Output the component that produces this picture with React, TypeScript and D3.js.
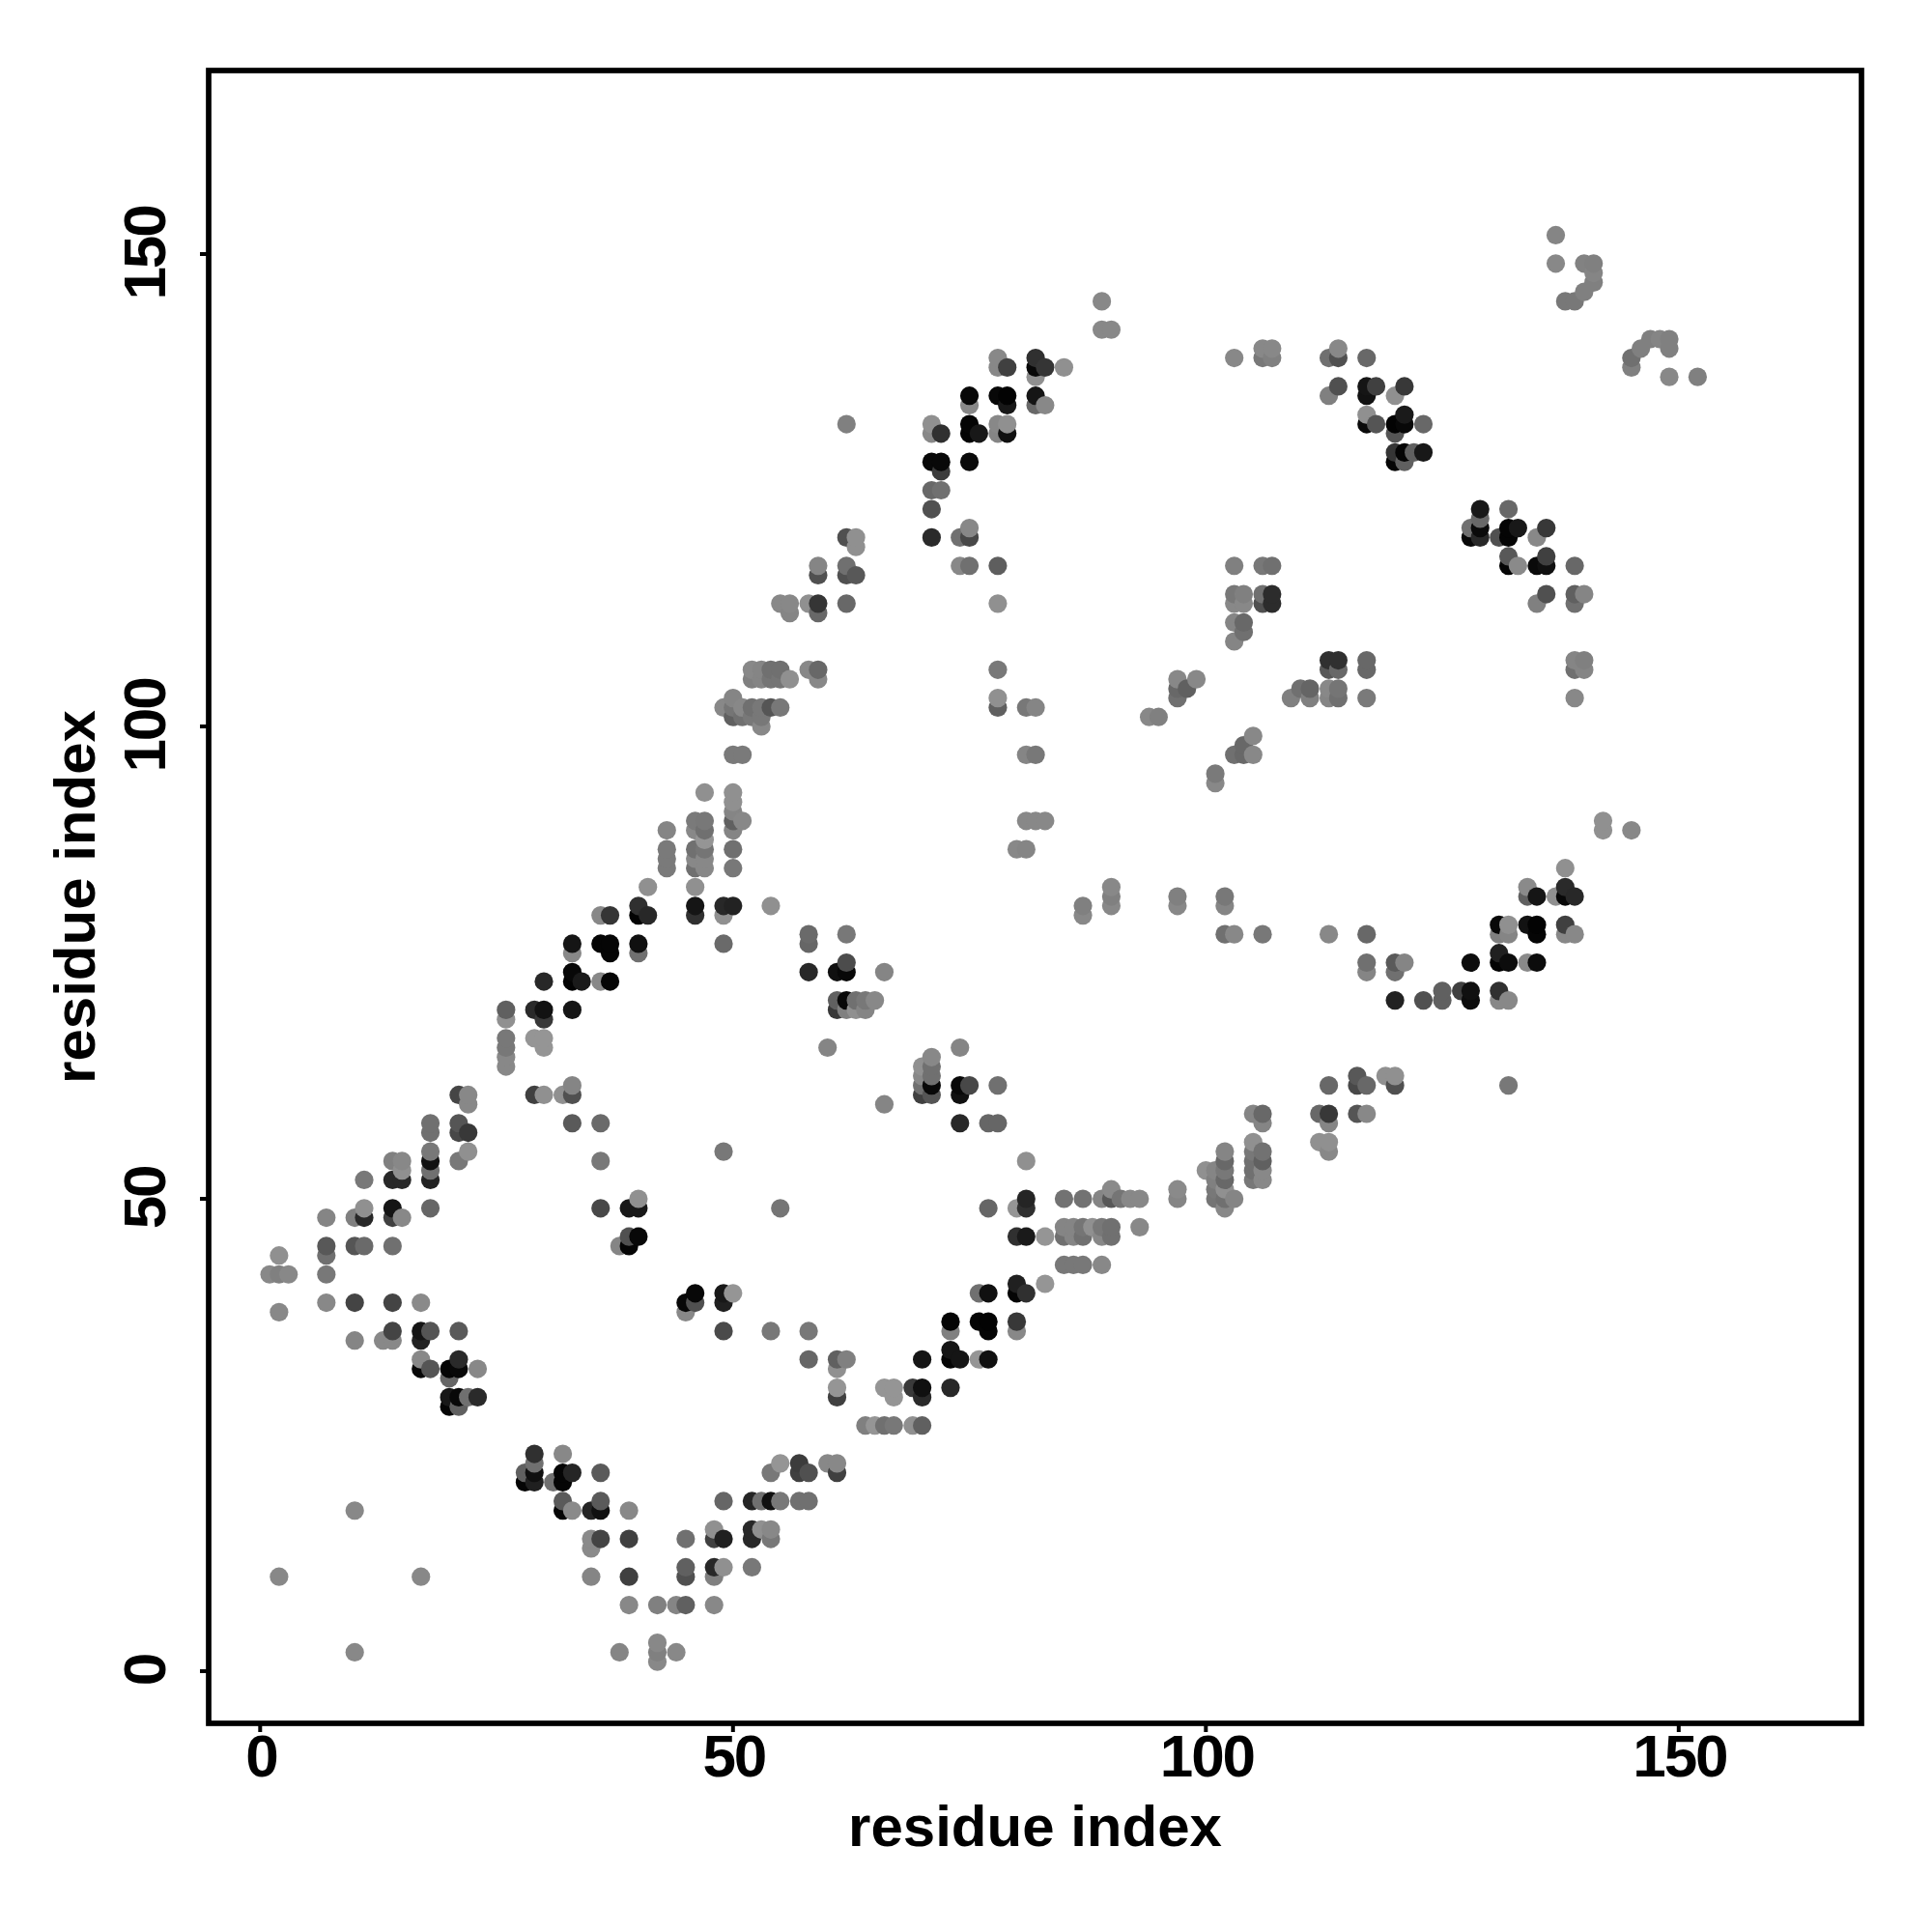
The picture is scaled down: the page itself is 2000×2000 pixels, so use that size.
import React from "react";
import * as d3 from "d3";

type Contact = [number, number, number];

const tickValues = [0, 50, 100, 150];
const axisTitle = "residue index";

const lowerLeft: Contact[] = [
  [2,38,0x88],[7,39,0x88],[10,39,0x44],[14,39,0x44],[17,39,0x8a],[14,36,0x44],[10,35,0x85],[13,35,0x88],[14,35,0x88],
  [17,36,0x15],[17,35,0x22],[18,36,0x55],[21,36,0x5a],[17,33,0x88],[17,32,0x08],[18,32,0x55],[20,32,0x05],[21,33,0x2a],
  [21,32,0x08],[20,31,0x66],[23,32,0x88],[20,29,0x18],[20,28,0x05],[21,29,0x08],[21,28,0x60],[22,29,0x70],[23,29,0x2a],
  [29,23,0x30],[32,23,0x88],[29,22,0x70],[28,21,0x60],[29,21,0x10],[28,20,0x05],[29,20,0x20],[32,21,0x05],[33,21,0x25],
  [31,20,0x70],[32,20,0x05],[36,21,0x5a],[32,18,0x5a],[32,17,0x05],[33,17,0x8a],[35,17,0x25],[36,18,0x5a],[36,17,0x10],
  [39,17,0x88],[10,17,0x88],[35,14,0x8a],[35,13,0x8a],[36,14,0x44],[39,14,0x40],[2,10,0x88],[17,10,0x88],[35,10,0x85],
  [39,10,0x40],[39,7,0x88],[42,7,0x80],[10,2,0x88],[38,2,0x85],[42,3,0x88],[42,2,0x80],[42,1,0x88],[44,7,0x85],[45,7,0x60],
  [48,7,0x88],[44,2,0x88],
];

const lowerMiddle: Contact[] = [
  [55,49,0x75],[77,49,0x66],[80,49,0x95],[81,49,0x30],[81,50,0x25],[80,46,0x30],[81,46,0x1a],[83,46,0x95],[45,39,0x08],
  [45,38,0x88],[46,40,0x08],[46,39,0x50],[49,40,0x18],[49,39,0x20],[50,40,0x95],[49,36,0x4a],[54,36,0x78],[58,36,0x78],
  [58,33,0x66],[61,33,0x60],[62,33,0x80],[61,32,0x90],[61,30,0x95],[61,29,0x40],[66,30,0x95],[67,30,0x95],[67,29,0x95],
  [69,30,0x3a],[70,30,0x10],[70,29,0x2a],[73,30,0x28],[70,33,0x15],[73,33,0x05],[73,34,0x15],[74,33,0x15],[76,33,0x95],
  [77,33,0x10],[73,37,0x05],[73,36,0x80],[76,37,0x05],[77,37,0x03],[77,36,0x05],[80,37,0x38],[80,36,0x88],[76,40,0x70],
  [77,40,0x10],[80,41,0x20],[80,40,0x05],[81,40,0x30],[83,41,0x95],[64,26,0x80],[65,26,0x95],[66,26,0x70],[67,26,0x78],
  [69,26,0x90],[70,26,0x60],[55,22,0x95],[54,21,0x78],[57,22,0x3c],[57,21,0x40],[58,21,0x50],[60,22,0x88],[61,22,0x88],
  [61,21,0x40],[49,18,0x66],[52,18,0x25],[53,18,0x70],[54,18,0x10],[55,18,0x78],[57,18,0x70],[58,18,0x70],[45,14,0x70],
  [48,15,0x90],[48,14,0x40],[49,14,0x20],[52,15,0x28],[52,14,0x28],[53,15,0x90],[54,15,0x88],[54,14,0x78],[45,11,0x60],
  [45,10,0x50],[48,11,0x28],[48,10,0x80],[49,11,0x90],[52,11,0x78],
];

const upperLeft: Contact[] = [
  [41,83,0x90],[40,81,0x30],[40,80,0x03],[41,80,0x28],[36,80,0x88],[37,80,0x35],[33,77,0x15],[33,76,0x88],[36,77,0x05],
  [37,77,0x05],[37,76,0x05],[40,77,0x10],[40,76,0x70],[30,73,0x28],[33,74,0x08],[33,73,0x03],[34,73,0x1a],[36,73,0x88],
  [37,73,0x05],[26,70,0x60],[26,69,0x90],[29,70,0x2a],[30,70,0x12],[30,69,0x38],[33,70,0x15],[26,67,0x78],[26,66,0x78],
  [26,65,0x88],[26,64,0x88],[29,67,0x95],[30,67,0x95],[30,66,0x95],[29,61,0x40],[30,61,0x90],[32,61,0x90],[33,61,0x50],
  [33,62,0x85],[33,58,0x5a],[36,58,0x6a],[36,54,0x78],[36,49,0x48],[39,49,0x18],[40,49,0x18],[40,50,0x90],[39,45,0x05],
  [39,46,0x50],[38,45,0x85],[40,46,0x08],[21,61,0x45],[22,61,0x88],[22,60,0x88],[18,58,0x70],[18,57,0x70],[21,58,0x55],
  [21,57,0x48],[22,57,0x38],[18,55,0x78],[18,54,0x12],[18,53,0x70],[18,52,0x22],[21,54,0x78],[22,55,0x90],[14,54,0x80],
  [15,54,0x88],[15,53,0x90],[14,52,0x28],[15,52,0x28],[11,52,0x78],[18,49,0x66],[14,49,0x15],[14,48,0x40],[15,48,0x88],
  [11,49,0x90],[10,48,0x80],[11,48,0x28],[7,48,0x85],[7,45,0x58],[7,44,0x70],[10,45,0x55],[11,45,0x6a],[14,45,0x70],
  [2,44,0x90],[1,42,0x88],[2,42,0x80],[3,42,0x88],[7,42,0x78],
];

const centre: Contact[] = [
  [46,81,0x15],[46,80,0x30],[49,81,0x28],[50,81,0x22],[49,80,0x90],[54,81,0x90],[49,77,0x6a],[46,83,0x90],[43,89,0x85],
  [43,87,0x7a],[43,86,0x7a],[43,85,0x7a],[46,90,0x7a],[47,90,0x78],[46,89,0x88],[47,89,0x70],[47,88,0x95],[46,87,0x70],
  [47,87,0x75],[46,86,0x88],[47,86,0x88],[46,85,0x70],[47,85,0x88],[50,93,0x90],[50,92,0x90],[50,91,0x85],[50,90,0x60],
  [50,89,0x85],[51,90,0x88],[50,87,0x70],[50,85,0x78],[47,93,0x90],[58,78,0x6a],[58,77,0x66],[62,78,0x78],[58,74,0x28],
  [61,74,0x10],[62,74,0x08],[62,75,0x4c],[66,74,0x85],[61,71,0x60],[61,70,0x38],[62,71,0x08],[62,70,0x80],[63,71,0x70],
  [63,70,0x90],[64,71,0x78],[64,70,0x85],[65,71,0x88],[60,66,0x85],[66,60,0x85],[74,66,0x85],[71,65,0x88],[70,64,0x90],
  [71,64,0x70],[70,63,0x88],[71,63,0x70],[70,62,0x70],[71,62,0x08],[70,61,0x40],[71,61,0x55],[74,62,0x08],[75,62,0x48],
  [74,61,0x10],[78,62,0x70],[74,58,0x28],[77,58,0x66],[78,58,0x66],[49,55,0x78],[81,54,0x90],
];

const lowerRight: Contact[] = [
  [85,50,0x72],[87,50,0x72],[89,50,0x85],[90,51,0x8a],[90,50,0x58],[91,50,0x75],[92,50,0x88],[93,50,0x88],[85,47,0x85],
  [86,47,0x85],[87,47,0x75],[88,47,0x90],[89,47,0x78],[90,47,0x70],[93,47,0x88],[85,46,0x70],[86,46,0x85],[87,46,0x70],
  [89,46,0x88],[90,46,0x70],[85,43,0x78],[86,43,0x78],[87,43,0x78],[89,43,0x88],[97,51,0x8a],[97,50,0x85],[100,53,0x90],
  [101,53,0x85],[101,52,0x80],[101,51,0x78],[101,50,0x75],[102,55,0x85],[102,54,0x68],[102,53,0x78],[102,52,0x68],
  [102,51,0x90],[102,50,0x70],[102,49,0x88],[103,50,0x85],[105,56,0x90],[106,55,0x72],[105,55,0x78],[105,54,0x70],
  [106,54,0x60],[105,53,0x70],[106,53,0x88],[105,52,0x78],[106,52,0x88],[105,59,0x85],[106,59,0x68],[106,58,0x85],
  [112,59,0x68],[113,59,0x38],[113,58,0x85],[112,56,0x90],[113,56,0x90],[113,55,0x88],[113,62,0x68],[116,63,0x58],
  [116,62,0x48],[117,62,0x68],[116,59,0x55],[117,59,0x88],[119,63,0x90],[120,63,0x90],[120,62,0x50],[120,71,0x22],
  [123,71,0x50],[132,62,0x78],
];

const rightArc: Contact[] = [
  [113,78,0x88],[117,78,0x68],[117,75,0x70],[117,74,0x85],[120,75,0x5a],[121,75,0x85],[120,74,0x70],[125,72,0x60],
  [125,71,0x60],[127,72,0x40],[128,72,0x10],[128,71,0x0c],[128,75,0x0c],[131,72,0x30],[131,71,0x88],[132,71,0x88],
  [131,76,0x20],[131,75,0x03],[132,75,0x0c],[134,75,0x8a],[135,75,0x0c],[131,79,0x08],[132,79,0x90],[131,78,0x80],
  [132,78,0x85],[134,79,0x12],[135,79,0x03],[135,78,0x05],[138,79,0x40],[138,78,0x88],[139,78,0x88],[134,83,0x8a],
  [134,82,0x60],[135,82,0x15],[137,82,0x90],[138,83,0x2a],[138,82,0x08],[139,82,0x28],[138,85,0x90],[142,90,0x90],
  [142,89,0x90],[145,89,0x88],[87,81,0x80],[87,80,0x88],[90,83,0x88],[90,82,0x80],[90,81,0x88],[97,82,0x80],[97,81,0x88],
  [102,82,0x78],[102,81,0x85],[102,78,0x70],[103,78,0x88],[106,78,0x78],
];

const upperMiddle: Contact[] = [
  [103,117,0x80],[106,117,0x78],[107,117,0x70],
  [103,114,0x78],[104,114,0x80],[103,113,0x88],[104,113,0x88],[106,114,0x70],[107,114,0x2c],[106,113,0x50],[107,113,0x2c],
  [103,111,0x85],[104,111,0x68],[104,110,0x70],[103,109,0x85],[97,105,0x88],[99,105,0x88],[97,104,0x68],[98,104,0x60],
  [97,103,0x70],[94,101,0x88],[95,101,0x80],[105,99,0x88],[104,98,0x68],[103,97,0x70],[104,97,0x68],[105,97,0x88],
  [101,95,0x7a],[101,94,0x88],[113,107,0x30],[114,107,0x30],[113,106,0x58],[114,106,0x68],[117,107,0x68],[117,106,0x68],
  [117,103,0x7a],[109,103,0x80],[110,104,0x70],[111,104,0x65],[111,103,0x80],[113,104,0x88],[114,104,0x75],[113,103,0x85],
  [114,103,0x70],[139,107,0x85],[140,107,0x80],[139,106,0x70],[140,106,0x85],[139,103,0x88],
];

const upperBand: Contact[] = [
  [71,123,0x50],[74,120,0x70],[75,120,0x48],[75,121,0x88],[74,117,0x88],[75,117,0x70],[78,117,0x5e],[78,113,0x90],
  [78,106,0x78],[78,103,0x90],[78,102,0x60],[81,102,0x78],[82,102,0x85],[81,97,0x85],[82,97,0x78],[81,90,0x88],
  [82,90,0x88],[83,90,0x88],[80,87,0x88],[81,87,0x85],[62,120,0x50],[63,120,0x90],[63,119,0x90],[59,117,0x85],
  [59,116,0x50],[62,117,0x70],[62,116,0x50],[63,116,0x58],[55,113,0x88],[56,113,0x88],[56,112,0x85],[58,113,0x90],
  [59,113,0x35],[59,112,0x68],[62,113,0x68],[52,106,0x88],[53,106,0x85],[54,106,0x70],[55,106,0x70],[52,105,0x80],
  [53,105,0x85],[54,105,0x75],[55,105,0x75],[56,105,0x90],[58,106,0x88],[59,106,0x68],[59,105,0x88],[50,103,0x85],
  [49,102,0x88],[50,102,0x75],[51,102,0x88],[52,102,0x70],[53,102,0x78],[54,102,0x55],[55,102,0x78],[50,101,0x60],
  [51,101,0x70],[52,101,0x78],[53,101,0x78],[53,100,0x88],[50,97,0x7a],[51,97,0x7a],[62,132,0x80],
  [78,139,0x88],[78,138,0x88],[79,138,0x40],[82,139,0x30],[82,138,0x08],[82,137,0x90],[83,138,0x35],[85,138,0x90],
  [75,135,0x08],[75,134,0x88],[78,135,0x08],[79,135,0x03],[79,134,0x18],[82,135,0x15],[82,134,0x68],[83,134,0x88],
  [71,132,0x90],[71,131,0x88],[72,131,0x30],[75,132,0x05],[75,131,0x03],[76,131,0x18],[78,132,0x88],[79,132,0x90],
  [78,131,0x85],[79,131,0x10],[71,128,0x08],[72,128,0x08],[72,127,0x3c],[75,128,0x0a],[71,125,0x68],[72,125,0x70],
  [71,120,0x2a],[89,145,0x88],[89,142,0x88],[90,142,0x88],
];

const upperRight: Contact[] = [
  [103,139,0x88],[106,140,0x88],[107,140,0x88],[106,139,0x78],[107,139,0x80],
  [113,139,0x70],[114,139,0x50],[114,140,0x88],[117,139,0x68],[113,135,0x80],[114,136,0x50],[117,136,0x15],[117,135,0x12],
  [118,136,0x40],[120,135,0x90],[121,136,0x38],[117,133,0x90],[117,132,0x0a],[118,132,0x55],[120,132,0x03],[121,133,0x1a],
  [121,132,0x08],[120,131,0x55],[123,132,0x68],[120,129,0x35],[120,128,0x05],[121,129,0x05],[121,128,0x60],[122,129,0x60],
  [123,129,0x18],[129,123,0x18],[132,123,0x68],[129,122,0x68],[128,121,0x70],[129,121,0x0a],[128,120,0x08],[129,120,0x28],
  [132,121,0x05],[133,121,0x18],[131,120,0x50],[132,120,0x05],[136,121,0x38],[135,120,0x88],[132,118,0x58],[132,117,0x05],
  [133,117,0x8a],[135,117,0x0a],[136,118,0x40],[136,117,0x10],[139,117,0x68],[136,114,0x50],[135,113,0x80],[139,114,0x60],
  [139,113,0x70],[140,114,0x85],[137,152,0x85],[137,149,0x88],[140,149,0x82],[141,149,0x80],[141,148,0x85],[141,147,0x80],
  [140,146,0x80],[138,145,0x78],[139,145,0x78],[147,141,0x80],[148,141,0x85],[149,141,0x80],[146,140,0x80],[149,140,0x80],
  [145,139,0x70],[145,138,0x80],[149,137,0x88],[152,137,0x80],
];

const contacts: Contact[] = [
  ...lowerLeft, ...lowerMiddle, ...upperLeft, ...centre, ...lowerRight,
  ...rightArc, ...upperMiddle, ...upperBand, ...upperRight,
].sort((a, b) => d3.ascending(a[0], b[0]) || d3.ascending(a[1], b[1]));

const FRAME = { left: 216, right: 1927, top: 73, bottom: 1784 };
const FONT = "'Liberation Sans', Arial, sans-serif";

const x = d3.scaleLinear().domain([0, 150]).range([269.3, 1737.8]);
const y = d3.scaleLinear().domain([0, 150]).range([1730, 263]);

export default function App() {
  return (
    <svg
      width={2000}
      height={2000}
      viewBox="0 0 2000 2000"
      style={{ position: "absolute", left: 0, top: 0, background: "#fff" }}
    >
      {contacts.map(([i, j, s], k) => (
        <circle key={k} cx={x(i)} cy={y(j)} r={9.6} fill={d3.rgb(s, s, s).formatHex()} />
      ))}
      <rect
        x={FRAME.left}
        y={FRAME.top}
        width={FRAME.right - FRAME.left}
        height={FRAME.bottom - FRAME.top}
        fill="none"
        stroke="#000"
        strokeWidth={5.7}
      />
      {tickValues.map((t) => (
        <g key={t}>
          <line x1={x(t)} x2={x(t)} y1={FRAME.bottom} y2={FRAME.bottom + 9} stroke="#000" strokeWidth={4} />
          <text
            x={x(t) + 1}
            y={1839}
            textAnchor="middle"
            fontFamily={FONT}
            fontWeight={700}
            fontSize={62}
            letterSpacing={-2.2}
            fill="#000"
          >
            {t}
          </text>
          <line x1={FRAME.left} x2={FRAME.left - 9} y1={y(t)} y2={y(t)} stroke="#000" strokeWidth={4} />
          <text
            transform={`translate(171,${y(t) - 1}) rotate(-90)`}
            textAnchor="middle"
            fontFamily={FONT}
            fontWeight={700}
            fontSize={62}
            letterSpacing={-2.2}
            fill="#000"
          >
            {t}
          </text>
        </g>
      ))}
      <text
        x={1071.5}
        y={1911}
        textAnchor="middle"
        fontFamily={FONT}
        fontWeight={700}
        fontSize={60}
        fill="#000"
      >
        {axisTitle}
      </text>
      <text
        transform={`translate(98,928.5) rotate(-90)`}
        textAnchor="middle"
        fontFamily={FONT}
        fontWeight={700}
        fontSize={60}
        fill="#000"
      >
        {axisTitle}
      </text>
    </svg>
  );
}
